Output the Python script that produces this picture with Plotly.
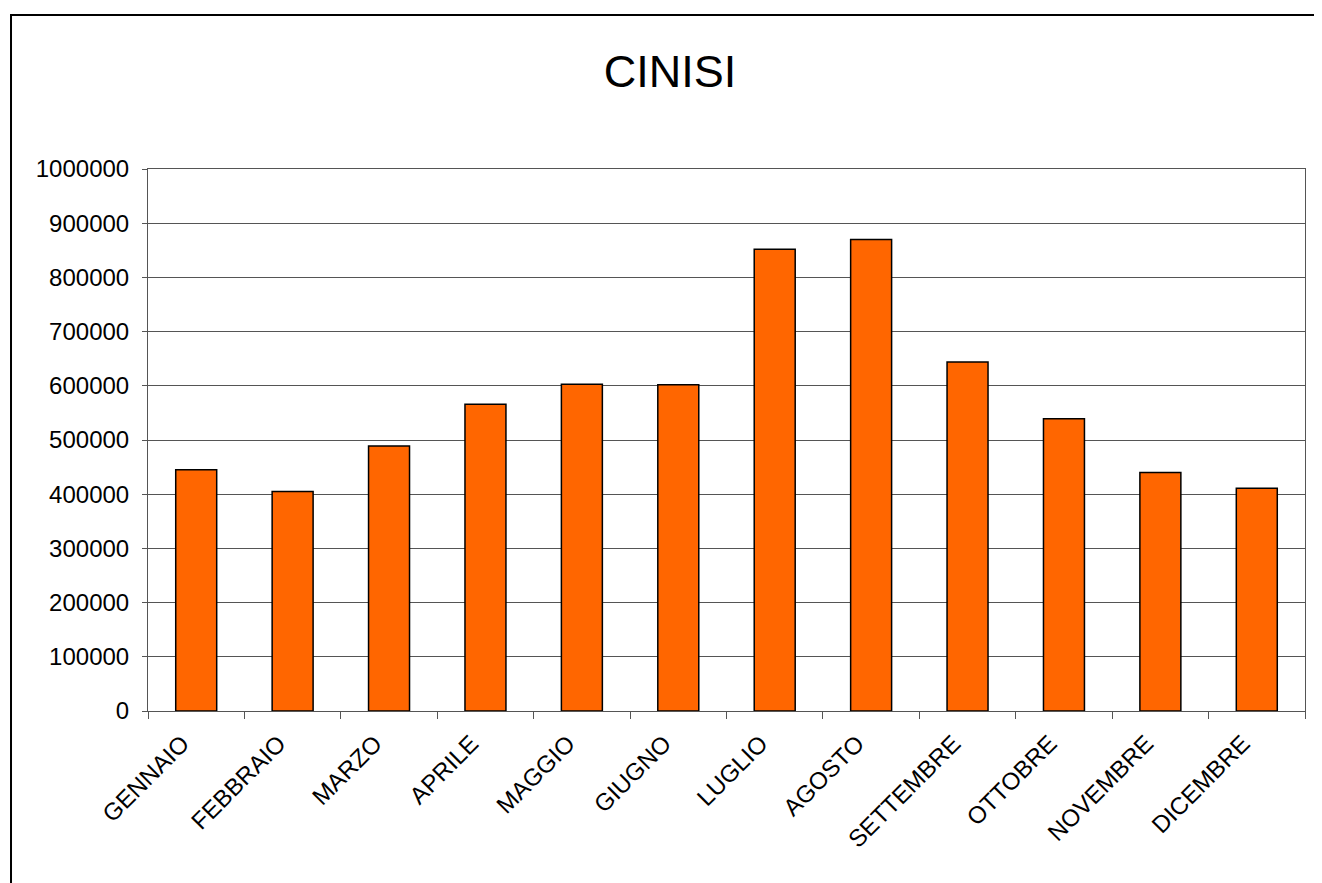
import plotly.graph_objs as go

mesi = ["GENNAIO", "FEBBRAIO", "MARZO", "APRILE", "MAGGIO", "GIUGNO",
        "LUGLIO", "AGOSTO", "SETTEMBRE", "OTTOBRE", "NOVEMBRE", "DICEMBRE"]
valori = [445000, 405000, 489000, 566000, 603000, 602000,
          852000, 870000, 644000, 539000, 440000, 411000]
y_ticks = [0, 100000, 200000, 300000, 400000, 500000,
           600000, 700000, 800000, 900000, 1000000]

font = "Arial, Liberation Sans, sans-serif"

fig = go.Figure(
    data=[
        go.Bar(
            x=mesi,
            y=valori,
            marker=dict(color="#ff6600", line=dict(color="black", width=1.5)),
        )
    ]
)

# the page adds an 8px body margin, so everything is pulled up/left by 8
fig.update_layout(
    width=1322,
    height=883,
    margin=dict(l=140, r=25, t=161, b=180),
    paper_bgcolor="white",
    plot_bgcolor="white",
    showlegend=False,
    bargap=0.575,
    font=dict(family=font, size=24, color="black"),
    title=dict(
        text="CINISI",
        font=dict(family=font, size=45, color="black"),
        x=662 / 1322, xref="container", xanchor="center",
        y=1 - 63 / 883, yref="container", yanchor="middle",
    ),
    shapes=[
        dict(
            type="rect", xref="paper", yref="paper",
            x0=-0.1184, x1=1.2, y0=-0.5, y1=1.2841,
            line=dict(color="black", width=2), layer="below",
        )
    ],
)

fig.update_xaxes(
    type="category",
    tickangle=-45,
    tickson="boundaries",
    ticks="outside",
    ticklen=7,
    tickcolor="#555",
    showline=True,
    linecolor="#555",
    linewidth=1,
    mirror=True,
    showgrid=False,
    ticklabelshift=-14,
    ticklabelstandoff=8,
    tickfont=dict(family=font, size=24),
)

fig.update_yaxes(
    range=[0, 1000000],
    tickvals=y_ticks,
    ticktext=[str(v) for v in y_ticks],
    ticks="outside",
    ticklen=5,
    tickcolor="#555",
    showline=True,
    linecolor="#555",
    linewidth=1,
    mirror=True,
    showgrid=True,
    gridcolor="#555",
    gridwidth=1,
    zeroline=False,
    ticklabelstandoff=8,
    tickfont=dict(family=font, size=24),
)

fig.write_html("out.html")
